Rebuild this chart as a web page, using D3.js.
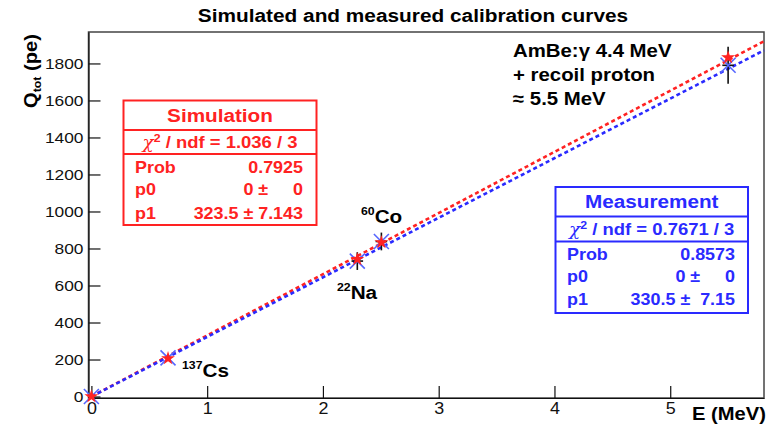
<!DOCTYPE html>
<html><head><meta charset="utf-8">
<script src="https://cdn.jsdelivr.net/npm/d3@7"></script>
<style>
html,body{margin:0;padding:0;background:#fff;}
svg{display:block;font-family:"Liberation Sans",Arial,Helvetica,sans-serif;}
</style></head>
<body><svg id="c" width="777" height="426"></svg>
<script>
// ---- data ----
const sources     = ["", "137Cs", "22Na", "60Co", "AmBe"];
const energies    = [0, 0.662, 2.297, 2.505, 5.5];
const simulated   = [0, 206, 742, 833, 1832];
const measured    = [0, 209, 732, 838, 1790];
const measuredErr = [0, 0, 48, 48, 100];
const energyErr   = [0, 0, 0.05, 0.05, 0.05];
const fitSlopes   = [330.5, 322];       // red line, blue line as drawn
const xTicks      = [0, 1, 2, 3, 4, 5];
const yTicks      = [0, 200, 400, 600, 800, 1000, 1200, 1400, 1600, 1800];
const simBoxRows  = [["Prob", "0.7925"], ["p0", "0 \u00b1     0"], ["p1", "323.5 \u00b1 7.143"]];
const measBoxRows = [["Prob", "0.8573"], ["p0", "0 \u00b1     0"], ["p1", "330.5 \u00b1  7.15"]];
const simChi      = ["1.036", "3"];
const measChi     = ["0.7671", "3"];

const RED = "#ff2222", BLUE = "#2a2aff";
const S = 1.12; // horizontal stretch of the reference glyphs
function stretch(sel) {
  sel.each(function () {
    const t = d3.select(this); const x0 = +t.attr("x") || 0;
    t.attr("transform", `translate(${x0},0) scale(${S},1) translate(${-x0},0)`);
  });
  return sel;
}
const svg = d3.select("#c");
const L = 88.5, R = 764, T = 32, B = 398;
const x = d3.scaleLinear().domain([-0.025, 5.81]).range([L, R]);
const y = d3.scaleLinear().domain([-8, 1970]).range([B, T]);

// title
stretch(svg.append("text").attr("x", 413).attr("y", 22).attr("text-anchor", "middle")
  .attr("font-weight", "bold").attr("font-size", 18.6).text("Simulated and measured calibration curves"));

// frame
svg.append("rect").attr("x", L).attr("y", T).attr("width", R - L).attr("height", B - T)
  .attr("fill", "none").attr("stroke", "#444").attr("stroke-width", 1.5);

// axes
const gx = svg.append("g").attr("transform", `translate(0,${B})`);
gx.call(d3.axisBottom(x).tickValues(d3.range(0, 5.81, 0.2)).tickSizeInner(-6).tickSizeOuter(0).tickFormat(""));
gx.call(d3.axisBottom(x).tickValues(xTicks).tickSizeInner(-12).tickSizeOuter(0).tickPadding(5).tickFormat(d3.format("d")));
gx.selectAll("text").attr("font-size", 16).attr("fill", "#111").attr("font-family", "Liberation Sans, Arial");
stretch(gx.selectAll("text"));
gx.selectAll("path,line").attr("stroke", "#111").attr("stroke-width", 1.2);

const gy = svg.append("g").attr("transform", `translate(${L},0)`);
gy.call(d3.axisLeft(y).tickValues(d3.range(0, 1970, 100)).tickSizeInner(-6).tickSizeOuter(0).tickFormat(""));
gy.call(d3.axisLeft(y).tickValues(yTicks).tickSizeInner(-12).tickSizeOuter(0).tickPadding(5).tickFormat(d3.format("d")));
gy.selectAll("text").attr("font-size", 15.5).attr("fill", "#111").attr("font-family", "Liberation Sans, Arial");
stretch(gy.selectAll("text"));
gy.selectAll("path,line").attr("stroke", "#111").attr("stroke-width", 1.2);

// axis titles
stretch(svg.append("text").attr("x", 766).attr("y", 420).attr("text-anchor", "end")
  .attr("font-weight", "bold").attr("font-size", 18).text("E (MeV)"));
const yt = svg.append("text").attr("transform", `translate(37,34) rotate(-90) scale(${S},1)`).attr("text-anchor", "end")
  .attr("font-weight", "bold").attr("font-size", 18);
yt.append("tspan").text("Q");
yt.append("tspan").attr("font-size", 11).attr("dy", 4).text("tot");
yt.append("tspan").attr("dy", -4).text(" (pe)");

// fit lines
const xEnd = x.domain()[1];
fitSlopes.forEach((s, i) => {
  svg.append("line").attr("x1", x(0)).attr("y1", y(0)).attr("x2", x(xEnd)).attr("y2", y(s * xEnd))
    .attr("stroke", i === 0 ? RED : BLUE).attr("stroke-width", 2.6).attr("stroke-dasharray", "4,3");
});

// measurement: blue asterisks + black error bars
energies.forEach((e, i) => {
  const cx = x(e), cy = y(measured[i]);
  if (measuredErr[i] > 0) {
    svg.append("line").attr("x1", cx).attr("x2", cx).attr("y1", y(measured[i] - measuredErr[i])).attr("y2", y(measured[i] + measuredErr[i]))
      .attr("stroke", "#111").attr("stroke-width", 1.6);
    svg.append("line").attr("x1", x(e - energyErr[i])).attr("x2", x(e + energyErr[i])).attr("y1", cy).attr("y2", cy)
      .attr("stroke", "#111").attr("stroke-width", 1.6);
  }
  const d = 7.5;
  svg.append("path").attr("d", `M${cx - d},${cy - d}L${cx + d},${cy + d}M${cx - d},${cy + d}L${cx + d},${cy - d}`)
    .attr("stroke", "#5566ff").attr("stroke-width", 1.6).attr("fill", "none");
});
// simulation: red stars
svg.selectAll(".sim").data(energies).enter().append("path")
  .attr("transform", (e, i) => `translate(${x(e)},${y(simulated[i])})`)
  .attr("d", d3.symbol(d3.symbolStar, 60)).attr("fill", RED);

// source labels
function iso(xp, yp, sup, name) {
  const t = svg.append("text").attr("x", xp).attr("y", yp).attr("font-weight", "bold").attr("font-size", 18.5);
  t.append("tspan").attr("font-size", 11).attr("dy", -8).text(sup);
  t.append("tspan").attr("dy", 8).text(name);
  stretch(t);
}
iso(361, 223, "60", "Co");
iso(337, 299, "22", "Na");
iso(182, 377, "137", "Cs");

// AmBe annotation
["AmBe:\u03b3 4.4 MeV", "+ recoil proton", "\u2248 5.5 MeV"].forEach((s, i) => {
  stretch(svg.append("text").attr("x", 513).attr("y", 57 + i * 24).attr("font-weight", "bold").attr("font-size", 18.2).text(s));
});

// stat boxes
function statBox(bx, by, w, h, d1, d2, rowsY, color, title, chi, rows, labX, valX) {
  const g = svg.append("g").attr("fill", color).attr("font-weight", "bold");
  g.append("rect").attr("x", bx).attr("y", by).attr("width", w).attr("height", h)
    .attr("fill", "#fff").attr("stroke", color).attr("stroke-width", 2);
  g.append("line").attr("x1", bx).attr("x2", bx + w).attr("y1", d1).attr("y2", d1).attr("stroke", color).attr("stroke-width", 2);
  g.append("line").attr("x1", bx).attr("x2", bx + w).attr("y1", d2).attr("y2", d2).attr("stroke", color).attr("stroke-width", 2);
  stretch(g.append("text").attr("x", bx + w / 2).attr("y", (by + d1) / 2 + 6.5).attr("text-anchor", "middle").attr("font-size", 18.5).text(title));
  const c = g.append("text").attr("x", bx + w / 2).attr("y", (d1 + d2) / 2 + 6).attr("text-anchor", "middle").attr("font-size", 16.5);
  c.append("tspan").attr("font-weight", "normal").attr("font-style", "italic").attr("font-family", "DejaVu Serif").text("\u03c7");
  c.append("tspan").attr("font-size", 11).attr("dy", -6).text("2");
  c.append("tspan").attr("dy", 6).text(` / ndf = ${chi[0]} / ${chi[1]}`);
  stretch(c);
  rows.forEach((r, i) => {
    stretch(g.append("text").attr("x", labX).attr("y", rowsY[i] + 5.5).attr("font-size", 16).text(r[0]));
    stretch(g.append("text").attr("x", valX).attr("y", rowsY[i] + 5.5).attr("text-anchor", "end").attr("font-size", 16)
      .style("white-space", "pre").text(r[1]));
  });
}
statBox(123.5, 100.5, 193, 124.5, 130, 154, [168, 190, 214], RED, "Simulation", simChi, simBoxRows, 135, 303);
statBox(555.5, 187, 192.5, 126, 216.5, 241.5, [255, 277, 300], BLUE, "Measurement", measChi, measBoxRows, 567, 735);
</script></body></html>
